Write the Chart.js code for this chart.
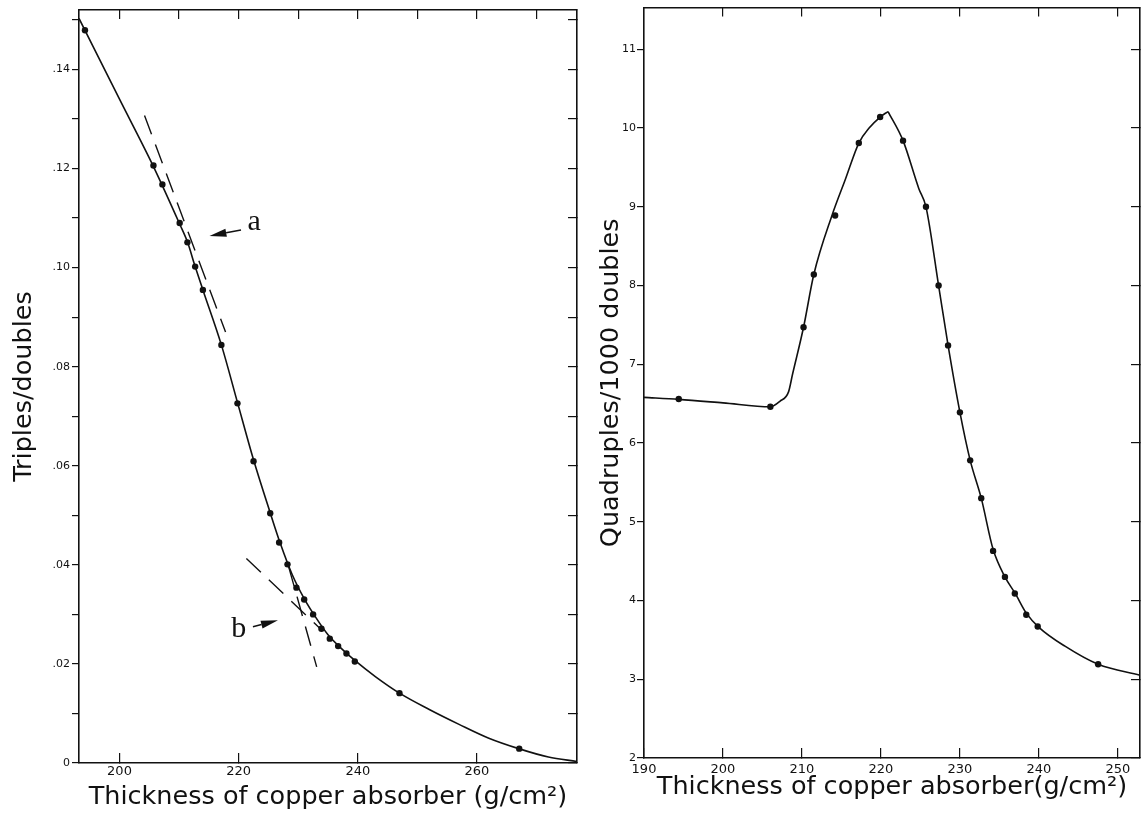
<!DOCTYPE html>
<html>
<head>
<meta charset="utf-8">
<script src="https://cdn.jsdelivr.net/npm/chart.js@4.4.0/dist/chart.umd.min.js"></script>
<style>
  html, body { margin: 0; padding: 0; background: #fff; }
  body { width: 1145px; height: 817px; position: relative; overflow: hidden; }
  canvas { position: absolute; top: 0; }
  #left { left: 0; }
  #right { left: 590px; }
</style>
</head>
<body>
<canvas id="left" width="590" height="817"></canvas>
<canvas id="right" width="555" height="817"></canvas>
<script>
// --- left panel: triples/doubles vs copper thickness ---
const LEFT_X = [194.2, 205.7, 207.2, 210.1, 211.4, 212.7, 214.0, 217.1, 219.8, 222.5, 225.3, 226.8,
                228.2, 229.7, 231.0, 232.5, 233.9, 235.3, 236.7, 238.1, 239.5, 247.0, 267.1];
const LEFT_Y = [0.1479, 0.1206, 0.1168, 0.1090, 0.1051, 0.1002, 0.0955, 0.0844, 0.0726, 0.0609, 0.0504, 0.0445,
                0.0401, 0.0354, 0.0330, 0.0300, 0.0271, 0.0251, 0.0236, 0.0221, 0.0205, 0.0141, 0.0029];
// smooth curve
const LEFT_CURVE_X = [193.2, 200, 205.7, 210.1, 211.4, 212.7, 214.0, 217.1, 219.8, 222.5, 225.3, 227, 229, 231, 233,
                      235, 237, 239.5, 243, 247, 252, 257, 262, 267, 272, 276.8];
const LEFT_CURVE_Y = [0.1503, 0.1340, 0.1204, 0.1088, 0.1052, 0.1002, 0.0955, 0.0844, 0.0728, 0.0612, 0.0505, 0.0443,
                      0.0380, 0.0332, 0.0293, 0.0259, 0.0234, 0.0207, 0.0174, 0.0141, 0.0108, 0.0078, 0.0050,
                      0.0029, 0.0012, 0.0003];
// dashed tangents
const TANGENT_A_X = [204.2, 217.8];
const TANGENT_A_Y = [0.1307, 0.0870];
const TANGENT_B1_X = [228.4, 233.1];
const TANGENT_B1_Y = [0.0396, 0.0194];
const TANGENT_B2_X = [221.3, 233.8];
const TANGENT_B2_Y = [0.0413, 0.0270];

const LEFT_X_TOP_TICKS = [200, 210, 220, 230, 240, 250, 260, 270];
const LEFT_X_TICKS = [200, 220, 240, 260];
const LEFT_X_LABELS = ['200', '220', '240', '260'];
const LEFT_Y_TICKS = [0, 0.01, 0.02, 0.03, 0.04, 0.05, 0.06, 0.07, 0.08, 0.09, 0.10, 0.11, 0.12, 0.13, 0.14, 0.15];
const LEFT_Y_LABELS = ['0', '', '.02', '', '.04', '', '.06', '', '.08', '', '.10', '', '.12', '', '.14', ''];

// --- right panel: quadruples/1000 doubles ---
const RIGHT_X = [194.4, 206.0, 210.2, 211.5, 214.2, 217.2, 219.9, 222.8, 225.7, 227.3, 228.5, 230.0,
                 231.3, 232.7, 234.2, 235.7, 236.95, 238.4, 239.85, 247.5];
const RIGHT_Y = [6.56, 6.46, 7.47, 8.14, 8.89, 9.81, 10.14, 9.84, 9.0, 8.0, 7.24, 6.39,
                 5.78, 5.30, 4.63, 4.30, 4.09, 3.82, 3.67, 3.19];
// fitted curve, rising side and falling side (sharp top at 220.9)
const RIGHT_RISE_X = [190, 194.4, 200, 206.0, 207.2, 208.3, 208.8, 210.2, 211.5, 213.8, 215.5, 217.2, 218.5,
                      219.9, 220.9];
const RIGHT_RISE_Y = [6.58, 6.555, 6.51, 6.46, 6.53, 6.65, 6.87, 7.47, 8.14, 8.89, 9.35, 9.81, 10.0,
                      10.14, 10.21];
const RIGHT_FALL_X = [220.9, 222.8, 224.8, 225.7, 227.3, 228.5, 230.0, 231.3, 232.7, 234.2,
                      235.7, 237.0, 238.4, 240.0, 243.3, 247.5, 252.8];
const RIGHT_FALL_Y = [10.21, 9.84, 9.23, 9.0, 8.0, 7.24, 6.39, 5.78, 5.30, 4.65,
                      4.30, 4.09, 3.84, 3.66, 3.42, 3.19, 3.05];

const RIGHT_X_TOP_TICKS = [200, 210, 220, 230, 240, 250];
const RIGHT_X_TICKS = [190, 200, 210, 220, 230, 240, 250];
const RIGHT_X_LABELS = ['190', '200', '210', '220', '230', '240', '250'];
const RIGHT_Y_TICKS = [2, 3, 4, 5, 6, 7, 8, 9, 10, 11];
const RIGHT_Y_LABELS = ['2', '3', '4', '5', '6', '7', '8', '9', '10', '11'];

const INK = '#111';
const SANS = '"DejaVu Sans", sans-serif';
const TITLE_FONT = { family: SANS, size: 25.5 };

const pairs = (xs, ys) => xs.map((v, i) => ({ x: v, y: ys[i] }));

// arrows and letter marks, drawn in data coordinates
const annotate = {
  id: 'annotate',
  afterDatasetsDraw(chart, args, opts) {
    const { ctx, scales: { x, y } } = chart;
    ctx.save();
    ctx.fillStyle = INK;
    ctx.strokeStyle = INK;
    (opts.arrows || []).forEach(a => {
      const x0 = x.getPixelForValue(a.from[0]), y0 = y.getPixelForValue(a.from[1]);
      const x1 = x.getPixelForValue(a.to[0]), y1 = y.getPixelForValue(a.to[1]);
      const ang = Math.atan2(y1 - y0, x1 - x0);
      const hl = 17, hw = 4;
      const bx = x1 - hl * Math.cos(ang), by = y1 - hl * Math.sin(ang);
      ctx.lineWidth = 1.5;
      ctx.beginPath(); ctx.moveTo(x0, y0); ctx.lineTo(bx, by); ctx.stroke();
      ctx.beginPath();
      ctx.moveTo(x1, y1);
      ctx.lineTo(bx + hw * Math.sin(ang), by - hw * Math.cos(ang));
      ctx.lineTo(bx - hw * Math.sin(ang), by + hw * Math.cos(ang));
      ctx.closePath(); ctx.fill();
    });
    ctx.font = '30px "Liberation Serif", serif';
    ctx.textAlign = 'center';
    ctx.textBaseline = 'middle';
    (opts.letters || []).forEach(l => {
      ctx.fillText(l.text, x.getPixelForValue(l.at[0]), y.getPixelForValue(l.at[1]));
    });
    ctx.restore();
  }
};

function innerAxis(position, min, max, ticks) {
  return {
    type: 'linear', position, min, max,
    afterBuildTicks: s => { s.ticks = ticks.map(v => ({ value: v })); },
    afterFit: s => { if (position === 'top') s.height = 0; else s.width = 0; },
    ticks: { display: false },
    grid: { drawOnChartArea: false, drawTicks: true, tickLength: -9, color: INK, lineWidth: 1.2 },
    border: { display: true, color: INK, width: 1.6 }
  };
}

function bottomAxis(min, max, ticks, labels, title, boxH, labelPad, titlePad) {
  return {
    type: 'linear', position: 'bottom', min, max,
    afterBuildTicks: s => { s.ticks = ticks.map(v => ({ value: v })); },
    afterFit: s => { s.height = boxH; },
    ticks: { color: INK, font: { family: SANS, size: 13 }, padding: labelPad, maxRotation: 0, autoSkip: false,
             callback: (v, i) => labels[i] },
    grid: { drawOnChartArea: false, drawTicks: true, tickLength: -10, color: INK, lineWidth: 1.2 },
    border: { display: true, color: INK, width: 1.6 },
    title: { display: true, text: title, color: INK, font: TITLE_FONT, padding: { top: 0, bottom: titlePad } }
  };
}

function leftAxis(min, max, ticks, labels, title, boxW, labelPad, titlePad) {
  return {
    type: 'linear', position: 'left', min, max,
    afterBuildTicks: s => { s.ticks = ticks.map(v => ({ value: v })); },
    afterFit: s => { s.width = boxW; },
    ticks: { color: INK, font: { family: SANS, size: 11 }, padding: labelPad, autoSkip: false,
             callback: (v, i) => labels[i] },
    grid: { drawOnChartArea: false, drawTicks: true, tickLength: 7, color: INK, lineWidth: 1.2 },
    border: { display: true, color: INK, width: 1.6 },
    title: { display: true, text: title, color: INK, font: TITLE_FONT, padding: { top: titlePad, bottom: 0 } }
  };
}

const pointSet = (xs, ys) => ({
  data: pairs(xs, ys), showLine: false, pointRadius: 3.2, pointHoverRadius: 3.2,
  pointBackgroundColor: INK, pointBorderColor: INK, pointBorderWidth: 0
});
const curveSet = (xs, ys) => ({
  data: pairs(xs, ys), showLine: true, pointRadius: 0, borderColor: INK, borderWidth: 1.6,
  cubicInterpolationMode: 'monotone', fill: false
});
const dashSet = (xs, ys) => ({
  data: pairs(xs, ys), showLine: true, pointRadius: 0, borderColor: INK, borderWidth: 1.4,
  borderDash: [20, 11], fill: false
});

const common = {
  responsive: false,
  animation: false,
  devicePixelRatio: 1,
  plugins: { legend: { display: false }, tooltip: { enabled: false } }
};

new Chart(document.getElementById('left'), {
  type: 'scatter',
  data: { datasets: [
    pointSet(LEFT_X, LEFT_Y),
    curveSet(LEFT_CURVE_X, LEFT_CURVE_Y),
    dashSet(TANGENT_A_X, TANGENT_A_Y),
    dashSet(TANGENT_B1_X, TANGENT_B1_Y),
    dashSet(TANGENT_B2_X, TANGENT_B2_Y)
  ] },
  options: {
    ...common,
    layout: { padding: { top: 10, right: 13, bottom: 0, left: 0 } },
    plugins: {
      ...common.plugins,
      annotate: {
        arrows: [ { from: [220.4, 0.1076], to: [215.1, 0.1064] },
                  { from: [222.4, 0.0275], to: [226.6, 0.0288] } ],
        letters: [ { text: 'a', at: [222.6, 0.1092] }, { text: 'b', at: [220.0, 0.0270] } ]
      }
    },
    scales: {
      x: bottomAxis(193.2, 276.8, LEFT_X_TICKS, LEFT_X_LABELS, 'Thickness of copper absorber (g/cm²)', 54, 11, 4.7),
      x2: innerAxis('top', 193.2, 276.8, LEFT_X_TOP_TICKS),
      y: leftAxis(0, 0.152, LEFT_Y_TICKS, LEFT_Y_LABELS, 'Triples/doubles', 79, 2, 8.7),
      y2: innerAxis('right', 0, 0.152, LEFT_Y_TICKS)
    }
  },
  plugins: [annotate]
});

new Chart(document.getElementById('right'), {
  type: 'scatter',
  data: { datasets: [
    pointSet(RIGHT_X, RIGHT_Y),
    curveSet(RIGHT_RISE_X, RIGHT_RISE_Y),
    curveSet(RIGHT_FALL_X, RIGHT_FALL_Y)
  ] },
  options: {
    ...common,
    layout: { padding: { top: 5, right: 5, bottom: 0, left: 0 } },
    scales: {
      x: bottomAxis(190, 252.8, RIGHT_X_TICKS, RIGHT_X_LABELS, 'Thickness of copper absorber(g/cm²)', 59, 13.5, 14.7),
      x2: innerAxis('top', 190, 252.8, RIGHT_X_TOP_TICKS),
      y: leftAxis(2, 11.53, RIGHT_Y_TICKS, RIGHT_Y_LABELS, 'Quadruples/1000 doubles', 54, 1, 5.7),
      y2: innerAxis('right', 2, 11.53, RIGHT_Y_TICKS)
    }
  }
});
</script>
</body>
</html>
